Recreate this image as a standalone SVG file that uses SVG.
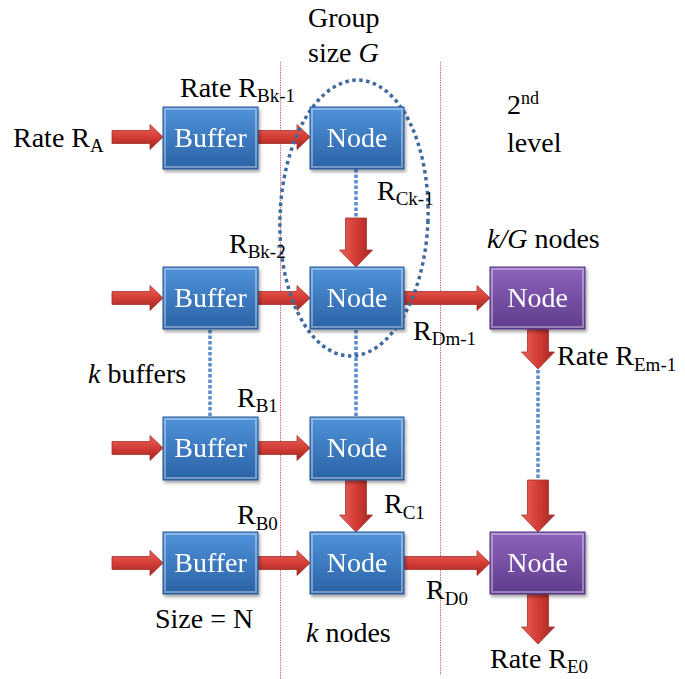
<svg xmlns="http://www.w3.org/2000/svg" width="685" height="679" viewBox="0 0 685 679">
<defs>
<linearGradient id="gBlue" x1="0" y1="0" x2="0" y2="1">
<stop offset="0" stop-color="#4f93da"/>
<stop offset="1" stop-color="#2b62a6"/>
</linearGradient>
<linearGradient id="gPurple" x1="0" y1="0" x2="0" y2="1">
<stop offset="0" stop-color="#8d63bd"/>
<stop offset="1" stop-color="#5f3c8c"/>
</linearGradient>
<linearGradient id="gRedH" x1="0" y1="0" x2="0" y2="1">
<stop offset="0" stop-color="#e8645c"/>
<stop offset="0.5" stop-color="#d43d35"/>
<stop offset="1" stop-color="#9e2722"/>
</linearGradient>
<linearGradient id="gRedV" x1="0" y1="0" x2="1" y2="0">
<stop offset="0" stop-color="#e8645c"/>
<stop offset="0.5" stop-color="#d43d35"/>
<stop offset="1" stop-color="#9e2722"/>
</linearGradient>
<filter id="sh" x="-10%" y="-10%" width="125%" height="130%">
<feDropShadow dx="1.5" dy="2.5" stdDeviation="1.5" flood-color="#000" flood-opacity="0.35"/>
</filter>
</defs>
<style>
text{font-family:'Liberation Serif','DejaVu Serif',serif;font-size:28px;fill:#000}
.lbl{fill:#fff;text-anchor:middle}
.sub{font-size:19px}
.blue{fill:url(#gBlue);stroke:#2a5a96;stroke-width:1}
.purple{fill:url(#gPurple);stroke:#553580;stroke-width:1}
.bevel{fill:none;stroke:#ffffff;stroke-opacity:0.35;stroke-width:2}
.ah{fill:url(#gRedH);stroke:#a8302a;stroke-width:0.8}
.av{fill:url(#gRedV);stroke:#a8302a;stroke-width:0.8}
.dot{stroke:#3f6a9e;stroke-width:3.5;fill:none;stroke-dasharray:3.5 3.5}
.dotl{stroke:#5b8ccc;stroke-width:3.5;fill:none;stroke-dasharray:3.5 2}
.red{stroke:#e06a6a;stroke-width:1;fill:none}
</style>

<g id="guides">
<line class="red" x1="280.5" y1="62" x2="280.5" y2="679" stroke-dasharray="1.5 1"/>
<line class="red" x1="440.5" y1="62" x2="440.5" y2="675" stroke-dasharray="1.5 1"/>
</g>

<g id="connectors">
<line class="dotl" x1="356" y1="169" x2="356" y2="218"/>
<line class="dotl" x1="210" y1="330" x2="210" y2="417"/>
<line class="dotl" x1="356" y1="330" x2="356" y2="417"/>
<line class="dotl" x1="538" y1="370" x2="538" y2="480"/>
<path class="ah" d="M112 130.5 H150 V124.5 L163 137 L150 149.5 V143.5 H112 Z"/>
<path class="ah" d="M257 130.5 H297 V124.5 L310 137 L297 149.5 V143.5 H257 Z"/>
<path class="ah" d="M112 291.5 H150 V285.5 L163 298 L150 310.5 V304.5 H112 Z"/>
<path class="ah" d="M257 291.5 H297 V285.5 L310 298 L297 310.5 V304.5 H257 Z"/>
<path class="ah" d="M404 291.5 H477 V285.5 L490 298 L477 310.5 V304.5 H404 Z"/>
<path class="ah" d="M112 441.5 H150 V435.5 L163 448 L150 460.5 V454.5 H112 Z"/>
<path class="ah" d="M257 441.5 H297 V435.5 L310 448 L297 460.5 V454.5 H257 Z"/>
<path class="ah" d="M112 556.5 H150 V550.5 L163 563 L150 575.5 V569.5 H112 Z"/>
<path class="ah" d="M257 556.5 H297 V550.5 L310 563 L297 575.5 V569.5 H257 Z"/>
<path class="ah" d="M404 556.5 H477 V550.5 L490 563 L477 575.5 V569.5 H404 Z"/>
<path class="av" d="M345.5 218 H366.5 V250 H372.5 L356 267 L339.5 250 H345.5 Z"/>
<path class="av" d="M345.5 480 H366.5 V515 H372.5 L356 532 L339.5 515 H345.5 Z"/>
<path class="av" d="M527.5 329 H548.5 V352 H554.5 L538 369 L521.5 352 H527.5 Z"/>
<path class="av" d="M527.5 480 H548.5 V515 H554.5 L538 532 L521.5 515 H527.5 Z"/>
<path class="av" d="M527.5 594 H548.5 V627 H554.5 L538 644 L521.5 627 H527.5 Z"/>
<ellipse class="dot" cx="354" cy="218" rx="74" ry="138" transform="rotate(2 354 218)"/>
</g>

<g id="buffer1" filter="url(#sh)"><rect class="blue" x="163" y="107" width="95" height="62"/><rect class="bevel" x="165" y="109" width="91" height="58"/><text class="lbl" x="210.5" y="147">Buffer</text></g>
<g id="buffer2" filter="url(#sh)"><rect class="blue" x="163" y="267" width="95" height="62"/><rect class="bevel" x="165" y="269" width="91" height="58"/><text class="lbl" x="210.5" y="307">Buffer</text></g>
<g id="buffer3" filter="url(#sh)"><rect class="blue" x="163" y="417" width="95" height="63"/><rect class="bevel" x="165" y="419" width="91" height="59"/><text class="lbl" x="210.5" y="457">Buffer</text></g>
<g id="buffer4" filter="url(#sh)"><rect class="blue" x="163" y="532" width="95" height="62"/><rect class="bevel" x="165" y="534" width="91" height="58"/><text class="lbl" x="210.5" y="572">Buffer</text></g>

<g id="node1" filter="url(#sh)"><rect class="blue" x="310" y="107" width="94" height="62"/><rect class="bevel" x="312" y="109" width="90" height="58"/><text class="lbl" x="357" y="147">Node</text></g>
<g id="node2" filter="url(#sh)"><rect class="blue" x="310" y="267" width="94" height="62"/><rect class="bevel" x="312" y="269" width="90" height="58"/><text class="lbl" x="357" y="307">Node</text></g>
<g id="node3" filter="url(#sh)"><rect class="blue" x="310" y="417" width="94" height="63"/><rect class="bevel" x="312" y="419" width="90" height="59"/><text class="lbl" x="357" y="457">Node</text></g>
<g id="node4" filter="url(#sh)"><rect class="blue" x="310" y="532" width="94" height="62"/><rect class="bevel" x="312" y="534" width="90" height="58"/><text class="lbl" x="357" y="572">Node</text></g>

<g id="node2b" filter="url(#sh)"><rect class="purple" x="490" y="267" width="95" height="62"/><rect class="bevel" x="492" y="269" width="91" height="58"/><text class="lbl" x="537.5" y="307">Node</text></g>
<g id="node4b" filter="url(#sh)"><rect class="purple" x="490" y="532" width="95" height="62"/><rect class="bevel" x="492" y="534" width="91" height="58"/><text class="lbl" x="537.5" y="572">Node</text></g>

<g id="labels">
<text x="308" y="27">Group</text>
<text x="308" y="62">size <tspan font-style="italic">G</tspan></text>
<text x="13" y="147">Rate R<tspan class="sub" dy="5">A</tspan></text>
<text x="180" y="97">Rate R<tspan class="sub" dy="5">Bk-1</tspan></text>
<text x="507" y="114">2<tspan font-size="18" dy="-10">nd</tspan></text>
<text x="507" y="152">level</text>
<text x="377" y="200">R<tspan class="sub" dy="5">Ck-1</tspan></text>
<text x="487" y="248"><tspan font-style="italic">k/G</tspan> nodes</text>
<text x="229" y="253">R<tspan class="sub" dy="5">Bk-2</tspan></text>
<text x="413" y="340">R<tspan class="sub" dy="5">Dm-1</tspan></text>
<text x="557" y="365">Rate R<tspan class="sub" dy="6">Em-1</tspan></text>
<text x="88" y="383"><tspan font-style="italic">k</tspan> buffers</text>
<text x="237" y="407">R<tspan class="sub" dy="5">B1</tspan></text>
<text x="384" y="513">R<tspan class="sub" dy="6">C1</tspan></text>
<text x="237" y="524">R<tspan class="sub" dy="6">B0</tspan></text>
<text x="426" y="599">R<tspan class="sub" dy="6">D0</tspan></text>
<text x="155" y="628">Size = N</text>
<text x="306" y="642"><tspan font-style="italic">k</tspan> nodes</text>
<text x="490" y="668">Rate R<tspan class="sub" dy="5">E0</tspan></text>
</g>
</svg>
